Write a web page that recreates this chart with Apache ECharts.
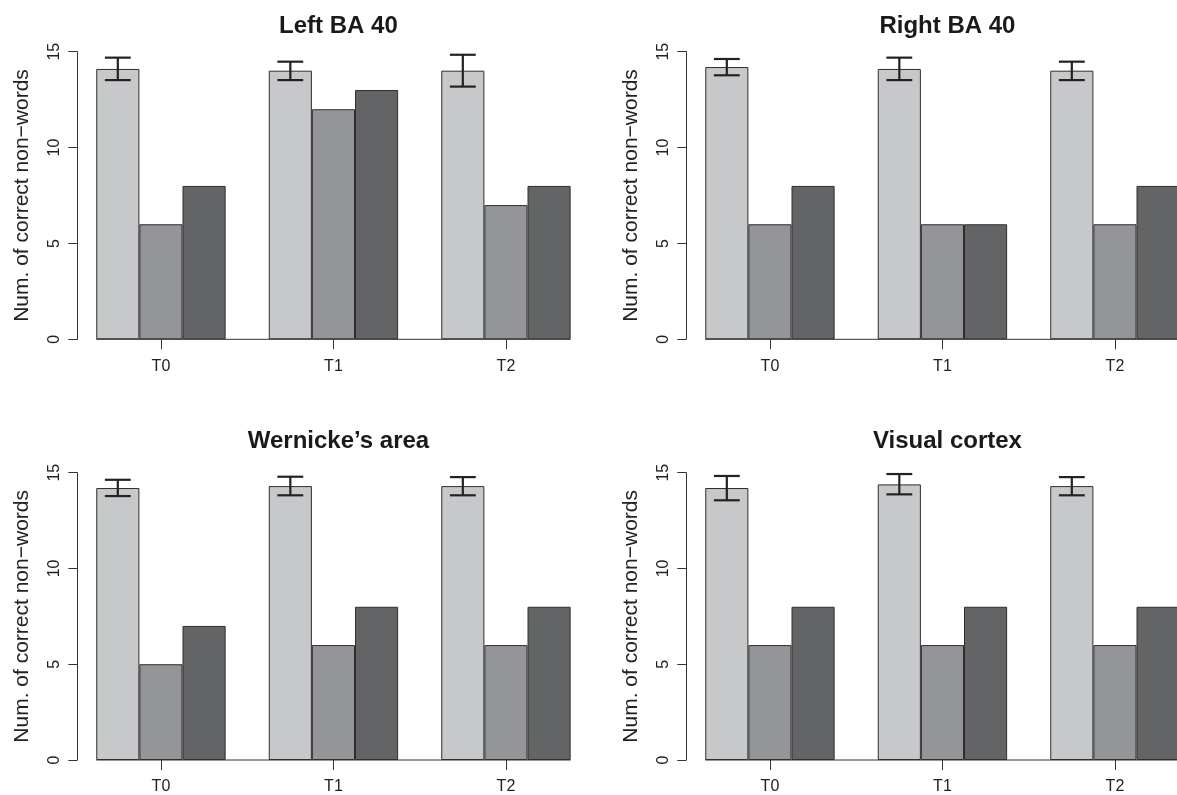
<!DOCTYPE html>
<html>
<head>
<meta charset="utf-8">
<script src="https://cdn.jsdelivr.net/npm/echarts@6/dist/echarts.min.js"></script>
<style>
html,body{margin:0;padding:0;background:#fff;width:1177px;height:795px;overflow:hidden;}
#chart{width:1215px;height:795px;}
</style>
</head>
<body>
<div id="chart"></div>
<script>
// ---- data ----
const categories = ['T0', 'T1', 'T2'];
const panelTitles = ['Left BA 40', 'Right BA 40', 'Wernicke\u2019s area', 'Visual cortex'];
const yAxisName = 'Num. of correct non\u2212words';
const yMin = 0, yMax = 15, yInterval = 5;

const leftBA40Light   = [14.10, 14.01, 14.01];
const leftBA40Mid     = [6, 12, 7];
const leftBA40Dark    = [8, 13, 8];
const leftBA40ErrLow  = [13.52, 13.52, 13.18];
const leftBA40ErrHigh = [14.69, 14.48, 14.84];

const rightBA40Light   = [14.20, 14.10, 14.01];
const rightBA40Mid     = [6, 6, 6];
const rightBA40Dark    = [8, 6, 8];
const rightBA40ErrLow  = [13.77, 13.52, 13.52];
const rightBA40ErrHigh = [14.62, 14.69, 14.48];

const wernickeLight   = [14.20, 14.30, 14.30];
const wernickeMid     = [5, 6, 6];
const wernickeDark    = [7, 8, 8];
const wernickeErrLow  = [13.78, 13.82, 13.82];
const wernickeErrHigh = [14.63, 14.79, 14.77];

const visualLight   = [14.20, 14.39, 14.30];
const visualMid     = [6, 6, 6];
const visualDark    = [8, 8, 8];
const visualErrLow  = [13.56, 13.87, 13.82];
const visualErrHigh = [14.83, 14.93, 14.77];

const panelData = [
  [leftBA40Light, leftBA40Mid, leftBA40Dark, leftBA40ErrLow, leftBA40ErrHigh],
  [rightBA40Light, rightBA40Mid, rightBA40Dark, rightBA40ErrLow, rightBA40ErrHigh],
  [wernickeLight, wernickeMid, wernickeDark, wernickeErrLow, wernickeErrHigh],
  [visualLight, visualMid, visualDark, visualErrLow, visualErrHigh]
];

// ---- layout / style ----
const FONT = '"Liberation Sans", Arial, Helvetica, sans-serif';
const barColors = ['#c7c8ca', '#949599', '#636466'];
const gridLayout = [
  {left: 74.7, top: 51.7, width: 517.5, height: 287.6},
  {left: 683.7, top: 51.7, width: 517.5, height: 287.6},
  {left: 74.7, top: 472.7, width: 517.5, height: 288},
  {left: 683.7, top: 472.7, width: 517.5, height: 288}
];
const titleTops = [9, 9, 424, 424];

function errRender(params, api) {
  const i = api.value(0);
  const lo = api.coord([i, api.value(1)]);
  const hi = api.coord([i, api.value(2)]);
  const band = api.size([1, 0])[0];
  const x = lo[0] - band * 0.25;
  const cap = band * 0.075;
  const style = {stroke: '#222', lineWidth: 2.2};
  return {type: 'group', children: [
    {type: 'line', shape: {x1: x, y1: lo[1], x2: x, y2: hi[1]}, style: style},
    {type: 'line', shape: {x1: x - cap, y1: lo[1], x2: x + cap, y2: lo[1]}, style: style},
    {type: 'line', shape: {x1: x - cap, y1: hi[1], x2: x + cap, y2: hi[1]}, style: style}
  ]};
}
function baseRender(params, api) {
  const a = api.coord([0, 0]);
  const b = api.coord([categories.length - 1, 0]);
  const band = api.size([1, 0])[0];
  return {type: 'line', shape: {x1: a[0] - band * 0.375, y1: a[1], x2: b[0] + band * 0.375, y2: a[1]},
          style: {stroke: '#333', lineWidth: 1}};
}

const grids = [], xAxes = [], yAxes = [], series = [], titles = [];
gridLayout.forEach(function (g, p) {
  grids.push(Object.assign({containLabel: false}, g));
  titles.push({
    text: panelTitles[p], left: g.left + g.width / 2, top: titleTops[p], textAlign: 'center',
    textStyle: {fontFamily: FONT, fontSize: 24, fontWeight: 'bold', color: '#1a1a1a'}
  });
  xAxes.push({
    type: 'category', gridIndex: p, data: categories,
    axisLine: {show: false},
    axisTick: {show: true, alignWithLabel: true, length: 10, lineStyle: {color: '#333', width: 1}},
    axisLabel: {fontFamily: FONT, fontSize: 16, color: '#222', margin: 19},
    splitLine: {show: false}
  });
  yAxes.push({
    type: 'value', gridIndex: p, min: yMin, max: yMax, interval: yInterval, offset: -2.6,
    name: yAxisName, nameLocation: 'middle', nameRotate: 90, nameGap: 45,
    nameTextStyle: {fontFamily: FONT, fontSize: 21, color: '#222'},
    axisLine: {show: true, lineStyle: {color: '#333', width: 1}},
    axisTick: {show: true, length: 9, lineStyle: {color: '#333', width: 1}},
    axisLabel: {fontFamily: FONT, fontSize: 16, color: '#222', rotate: 90, margin: 15},
    splitLine: {show: false}
  });
  const d = panelData[p];
  for (let k = 0; k < 3; k++) {
    series.push({
      type: 'bar', xAxisIndex: p, yAxisIndex: p, data: d[k],
      barGap: '0%', barCategoryGap: '25%',
      itemStyle: {color: barColors[k], borderColor: '#2e2e2e', borderWidth: 1},
      z: 2
    });
  }
  series.push({
    type: 'custom', xAxisIndex: p, yAxisIndex: p, renderItem: baseRender,
    data: [[0, 0]], encode: {x: 0, y: 1}, z: 3, silent: true
  });
  series.push({
    type: 'custom', xAxisIndex: p, yAxisIndex: p, renderItem: errRender,
    data: categories.map(function (c, i) { return [i, d[3][i], d[4][i]]; }),
    encode: {x: 0, y: [1, 2]}, z: 5, silent: true
  });
});

const chart = echarts.init(document.getElementById('chart'));
chart.setOption({
  animation: false,
  backgroundColor: '#ffffff',
  title: titles,
  grid: grids,
  xAxis: xAxes,
  yAxis: yAxes,
  series: series
});
</script>
</body>
</html>
